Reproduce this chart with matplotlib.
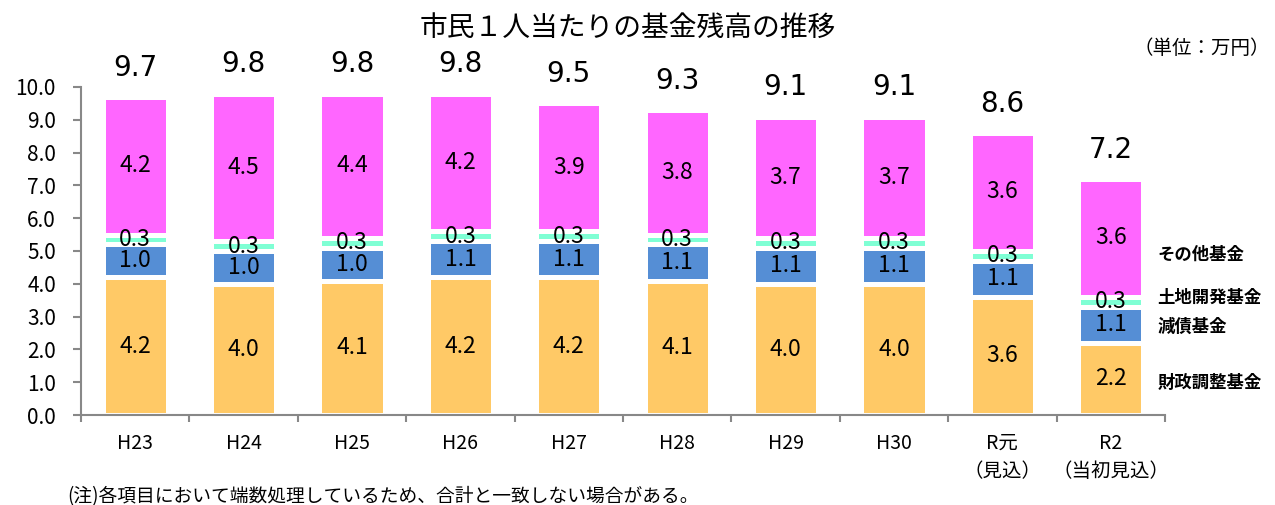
import numpy as np
import matplotlib.pyplot as plt

plt.rcParams['font.family'] = ['Noto Sans CJK JP', 'DejaVu Sans']

""" Data """
years = ["H23", "H24", "H25", "H26", "H27", "H28", "H29", "H30",
         "R元\n（見込）", "R2\n（当初見込）"]
zaisei = [4.2, 4.0, 4.1, 4.2, 4.2, 4.1, 4.0, 4.0, 3.6, 2.2]   # 財政調整基金
gensai = [1.0, 1.0, 1.0, 1.1, 1.1, 1.1, 1.1, 1.1, 1.1, 1.1]   # 減債基金
tochi = [0.3, 0.3, 0.3, 0.3, 0.3, 0.3, 0.3, 0.3, 0.3, 0.3]    # 土地開発基金
sonota = [4.2, 4.5, 4.4, 4.2, 3.9, 3.8, 3.7, 3.7, 3.6, 3.6]   # その他基金
totals = [9.7, 9.8, 9.8, 9.8, 9.5, 9.3, 9.1, 9.1, 8.6, 7.2]

series = [zaisei, gensai, tochi, sonota]
names = ["財政調整基金", "減債基金", "土地開発基金", "その他基金"]
colors = ["#FFC966", "#558ED5", "#7FFFD4", "#FF66FF"]
legend_y = [0.098, 0.268, 0.357, 0.488]

fig = plt.figure(figsize=(12.75, 5.05), dpi=100)
ax = fig.add_axes([81/1275, 1-415/505, 1084/1275, 328/505])

x = np.arange(len(years))
bottom = np.zeros(len(years))
for vals, col in zip(series, colors):
    vals = np.array(vals)
    ax.bar(x, vals, 0.6, bottom=bottom, color=col, edgecolor="white", linewidth=3.6)
    for xi, b, v in zip(x, bottom, vals):
        ax.text(xi, b + v/2, f"{v:.1f}", ha="center", va="center", fontsize=16.5)
    bottom += vals

# totals above the stacks
for xi, t, top in zip(x, totals, bottom):
    ax.annotate(f"{t:.1f}", (xi, top), xytext=(0, 21), textcoords="offset points",
                ha="center", va="center", fontsize=20, family="DejaVu Sans")

for name, ly in zip(names, legend_y):
    ax.text(0.993, ly, name, transform=ax.transAxes, ha="left", va="center",
            fontsize=12.5, fontweight="bold")

ax.set_xlim(-0.5, len(years) - 0.5)
ax.set_ylim(0, 10)
yt = np.arange(0, 10.1, 1.0)
ax.set_yticks(yt)
ax.set_yticklabels([f"{v:.1f}" for v in yt], fontsize=15)
ax.set_xticks(x)
ax.set_xticklabels(years, fontsize=14, linespacing=1.45)
ax.set_xticks(np.arange(-0.5, len(years), 1.0), minor=True)
ax.tick_params(axis="x", which="major", length=0, pad=13)
ax.tick_params(axis="x", which="minor", length=5, width=1.5, color="#888888")
ax.tick_params(axis="y", length=6, width=1.5, color="#888888", pad=12)
for s in ["top", "right"]:
    ax.spines[s].set_visible(False)
for s in ["left", "bottom"]:
    ax.spines[s].set_color("#888888")
    ax.spines[s].set_linewidth(1.5)

fig.text(628/1275, 1-28/505, "市民１人当たりの基金残高の推移", ha="center", va="center",
         fontsize=20)
fig.text(1270/1275, 1-48/505, "（単位：万円）", ha="right", va="center", fontsize=14)
fig.text(67/1275, 1-497/505, "(注)各項目において端数処理しているため、合計と一致しない場合がある。",
         ha="left", va="center", fontsize=13.5)

plt.savefig("out.png", dpi=100)
